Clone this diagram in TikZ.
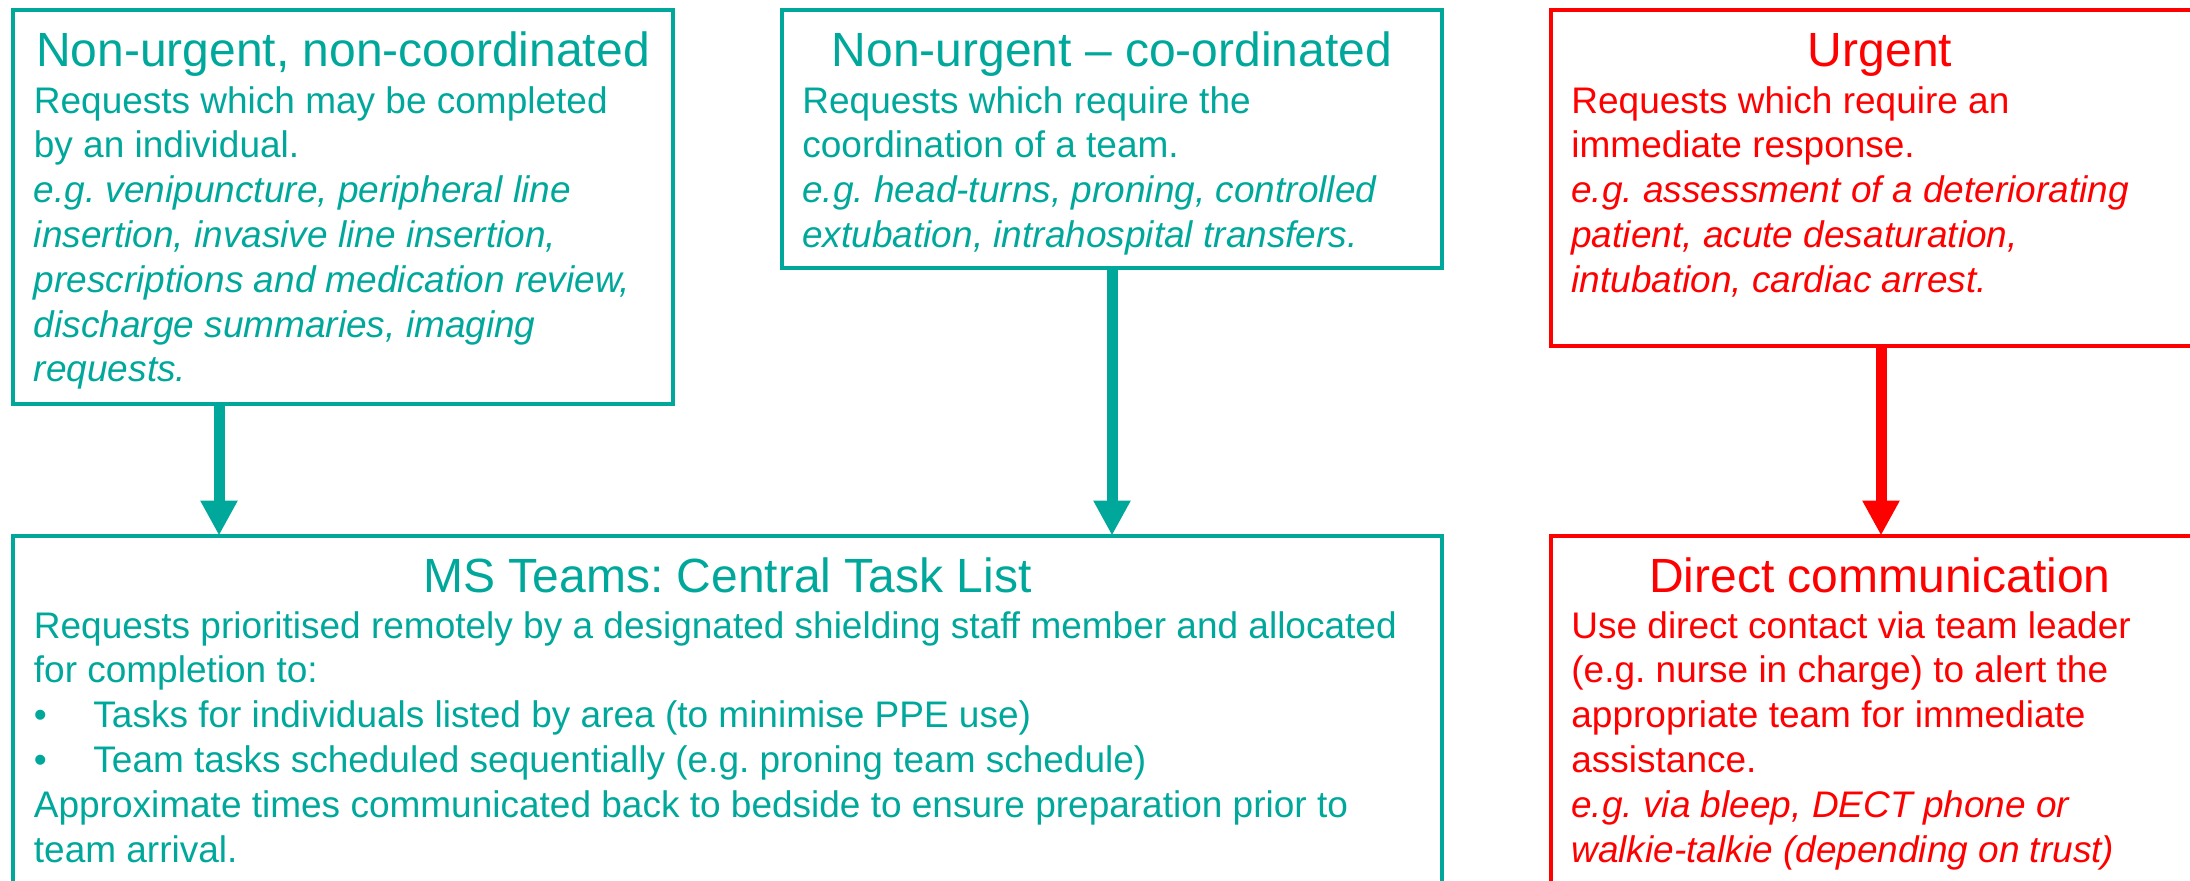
\documentclass[tikz,border=0pt]{standalone}
\usepackage{fontspec}
\setmainfont{Liberation Sans}
\usetikzlibrary{arrows.meta}
\definecolor{tealc}{RGB}{0,168,155}
\definecolor{alertred}{RGB}{255,0,0}
\frenchspacing
\begin{document}
\begin{tikzpicture}[x=0.5pt,y=-0.5pt,
  box/.style={draw, line width=2pt, rectangle, inner sep=0pt, outer sep=0pt, anchor=north west},
  ttl/.style={anchor=base, inner sep=0pt, font=\fontsize{24}{28}\selectfont\frenchspacing},
  bdy/.style={anchor=base west, inner sep=0pt, align=left, font=\fontsize{18.5}{22.4}\selectfont\frenchspacing},
  arr/.style={line width=5.5pt, -{Triangle[width=17.5pt,length=17.5pt]}},
]
\useasboundingbox (0,0) rectangle (2190,880);
\clip (0,0) rectangle (2190,880);

% boxes
\node[box, tealc, minimum width=330pt, minimum height=197pt] (b1) at (13,10) {};
\node[box, tealc, minimum width=330pt, minimum height=129pt] (b2) at (782,10) {};
\node[box, alertred, minimum width=329pt, minimum height=168pt] (b3) at (1551,10) {};
\node[box, tealc, minimum width=714.5pt, minimum height=192pt] (b4) at (13,535.5) {};
\node[box, alertred, minimum width=329pt, minimum height=192pt] (b5) at (1551,535.5) {};

% titles
\node[ttl, tealc] (t1) at (343,66.5) {Non-urgent, non-coordinated};
\node[ttl, tealc] (t2) at (1112,66.5) {Non-urgent – co-ordinated};
\node[ttl, alertred] (t3) at (1880,66.5) {Urgent};
\node[ttl, tealc] (t4) at (727.5,592) {MS Teams: Central Task List};
\node[ttl, alertred] (t5) at (1880,592) {Direct communication};

% body texts (anchored at the baseline of their last line)
\node[bdy, tealc] (x1) at (33.5,381.8) {Requests which may be completed\\
by an individual.\\
\textit{e.g. venipuncture, peripheral line}\\
\textit{insertion, invasive line insertion,}\\
\textit{prescriptions and medication review,}\\
\textit{discharge summaries, imaging}\\
\textit{requests.}};
\node[bdy, tealc] (x2) at (802,247.4) {Requests which require the\\
coordination of a team.\\
\textit{e.g. head-turns, proning, controlled}\\
\textit{extubation, intrahospital transfers.}};
\node[bdy, alertred] (x3) at (1571,292.2) {Requests which require an\\
immediate response.\\
\textit{e.g. assessment of a deteriorating}\\
\textit{patient, acute desaturation,}\\
\textit{intubation, cardiac arrest.}};
\node[bdy, tealc] (x4) at (33.5,862) {Requests prioritised remotely by a designated shielding staff member and allocated\\
for completion to:\\
\makebox[29.75pt][l]{•}Tasks for individuals listed by area (to minimise PPE use)\\
\makebox[29.75pt][l]{•}Team tasks scheduled sequentially (e.g. proning team schedule)\\
Approximate times communicated back to bedside to ensure preparation prior to\\
team arrival.};
\node[bdy, alertred] (x5) at (1571,862) {Use direct contact via team leader\\
(e.g. nurse in charge) to alert the\\
appropriate team for immediate\\
assistance.\\
\textit{e.g. via bleep, DECT phone or}\\
\textit{walkie-talkie (depending on trust)}};

% arrows
\coordinate (a1) at (219,0);
\coordinate (a2) at (1112,0);
\coordinate (a3) at (1881,0);
\draw[arr, tealc] (b1.south -| a1) -- (b4.north -| a1);
\draw[arr, tealc] (b2.south -| a2) -- (b4.north -| a2);
\draw[arr, alertred] (b3.south -| a3) -- (b5.north -| a3);
\end{tikzpicture}
\end{document}
